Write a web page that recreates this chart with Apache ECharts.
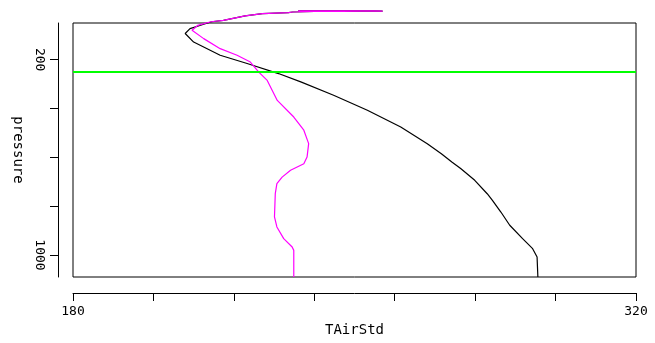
<!DOCTYPE html>
<html>
<head>
<meta charset="utf-8">
<script src="https://cdn.jsdelivr.net/npm/echarts@6/dist/echarts.min.js"></script>
<style>
html,body{margin:0;padding:0;background:#fff;}
#chart{width:655px;height:343px;}
</style>
</head>
<body>
<div id="chart"></div>
<script>
// Pressure levels (hPa) and temperatures (K)
var blackPressure = [1090, 1008, 974, 933, 878, 824, 776, 749, 694, 646, 619, 585, 544, 476, 407, 346, 292, 257, 216, 182, 128, 93, 73, 55, 45, 39, 21, 11.5, 7.4, 5, 3, 2, 1.5, 1, 0.5, 0.2, 0.1];
var blackTemp     = [295.6, 295.4, 294.3, 291.8, 288.6, 286.4, 284.3, 283.0, 279.9, 276.4, 274.2, 271.6, 268.1, 261.5, 253.2, 244.8, 236.8, 231.1, 223.3, 216.6, 210.0, 207.9, 209.1, 212.5, 214.5, 217.4, 222.8, 227.1, 233.6, 234.6, 240, 247, 252, 257, 255, 246, 236];

var magentaPressure = [1090, 981, 967, 933, 885, 844, 749, 708, 681, 653, 626, 599, 544, 489, 435, 367, 285, 251, 210, 182, 155, 114, 80, 60, 45, 39, 21, 11.5, 7.4, 5, 3, 2, 1.5, 1, 0.5, 0.2, 0.1];
var magentaTemp     = [234.9, 234.9, 234.5, 232.4, 230.7, 230.1, 230.3, 230.7, 232.0, 234.1, 237.4, 238.2, 238.6, 237.4, 234.9, 230.8, 228.3, 226.2, 224.1, 220.8, 216.6, 212.5, 209.6, 211.0, 214.3, 217.4, 222.8, 227.1, 233.6, 234.6, 240, 247, 252, 257, 255, 246, 236];

var markerPressure = 250;
var xTickLabels = [180, 320];
var yTicks = [200, 400, 600, 800, 1000];
var yTickLabels = [200, 1000];

function pairs(t, p) {
  var out = [];
  for (var i = 0; i < t.length; i++) out.push([t[i], p[i]]);
  return out;
}

var font = 'DejaVu Sans Mono';
var chart = echarts.init(document.getElementById('chart'), null, {renderer: 'canvas'});
chart.setOption({
  animation: false,
  backgroundColor: '#ffffff',
  grid: {
    left: 73, right: 19, top: 23, bottom: 66,
    show: true, borderColor: '#000', borderWidth: 1, backgroundColor: 'transparent'
  },
  xAxis: {
    type: 'value', min: 180, max: 320, interval: 20,
    position: 'bottom', offset: 16,
    name: 'TAirStd', nameLocation: 'middle', nameGap: 27,
    nameTextStyle: {fontFamily: font, fontSize: 14, color: '#000'},
    axisLine: {show: true, lineStyle: {color: '#000', width: 1}},
    axisTick: {show: true, inside: false, length: 8, lineStyle: {color: '#000'}},
    axisLabel: {
      show: true, margin: 12, fontFamily: font, fontSize: 13, color: '#000',
      customValues: xTickLabels, showMinLabel: true, showMaxLabel: true,
      formatter: function (v) { return String(v); }
    },
    splitLine: {show: false}
  },
  yAxis: {
    type: 'value', inverse: true, min: 50, max: 1090,
    position: 'left', offset: 15,
    name: 'pressure', nameLocation: 'middle', nameGap: 30, nameRotate: -90,
    nameTextStyle: {fontFamily: font, fontSize: 14, color: '#000'},
    axisLine: {show: true, lineStyle: {color: '#000', width: 1}},
    axisTick: {show: true, inside: false, length: 8, customValues: yTicks, lineStyle: {color: '#000'}},
    axisLabel: {
      show: true, rotate: -90, margin: 12, fontFamily: font, fontSize: 13, color: '#000',
      customValues: yTickLabels,
      formatter: function (v) { return String(v); }
    },
    splitLine: {show: false}
  },
  series: [
    {
      type: 'line', name: 'black', data: pairs(blackTemp, blackPressure),
      showSymbol: false, clip: false, smooth: false,
      lineStyle: {color: '#000000', width: 1.2},
      markLine: {
        silent: true, symbol: 'none', label: {show: false},
        lineStyle: {color: '#00ff00', width: 2, type: 'solid'},
        data: [{yAxis: markerPressure}]
      },
      z: 2
    },
    {
      type: 'line', name: 'magenta', data: pairs(magentaTemp, magentaPressure),
      showSymbol: false, clip: false, smooth: false,
      lineStyle: {color: '#ff00ff', width: 1.2},
      z: 3
    }
  ]
});
</script>
</body>
</html>
